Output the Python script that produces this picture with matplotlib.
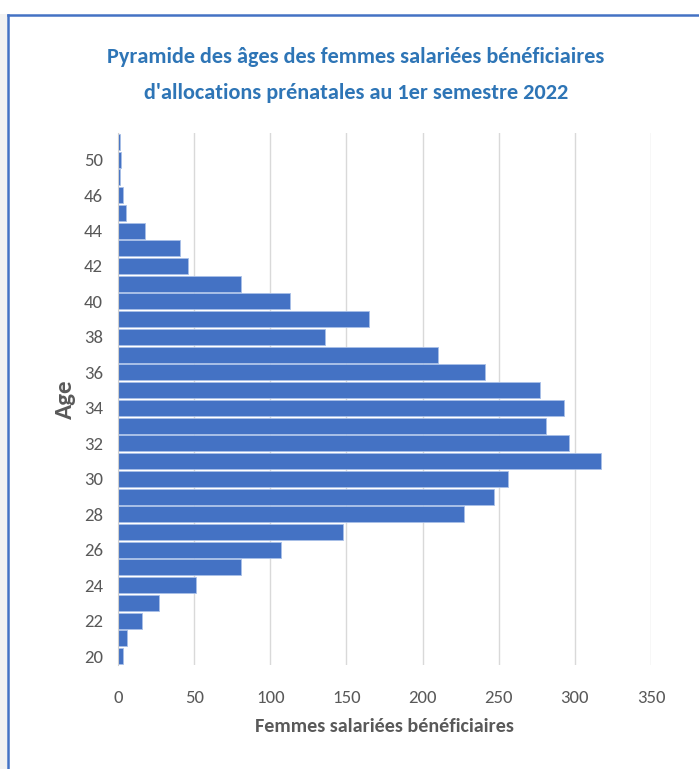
import matplotlib
matplotlib.use("Agg")
import matplotlib.pyplot as plt
from matplotlib.lines import Line2D
from matplotlib.patches import Rectangle

ages = [20, 21, 22, 23, 24, 25, 26, 27, 28, 29, 30, 31, 32, 33, 34,
        35, 36, 37, 38, 39, 40, 41, 42, 43, 44, 45, 46, 47, 50, 51]
counts = [3, 6, 16, 27, 51, 81, 107, 148, 227, 247, 256, 317, 296, 281, 293,
          277, 241, 210, 136, 165, 113, 81, 46, 41, 18, 5, 3, 1, 2, 1]
xticks = [0, 50, 100, 150, 200, 250, 300, 350]

title = "Pyramide des âges des femmes salariées bénéficiaires\nd'allocations prénatales au 1er semestre 2022"
xlabel = "Femmes salariées bénéficiaires"
ylabel = "Age"

fam = ["Carlito", "Open Sans", "DejaVu Sans"]
grey = "#595959"
blue = "#4472C4"

fig = plt.figure(figsize=(6.99, 7.69), dpi=100)

# page background strip and chart frame
fig.patches.append(Rectangle((0, 0), 7 / 699, 1 - 14 / 769, transform=fig.transFigure,
                             facecolor="#f2f2f2", edgecolor="none", zorder=0))
fig.lines.append(Line2D([7.5 / 699, 7.5 / 699], [0, 1 - 15 / 769], transform=fig.transFigure,
                        color=blue, lw=1.8))
fig.lines.append(Line2D([7.5 / 699, 1], [1 - 15 / 769, 1 - 15 / 769], transform=fig.transFigure,
                        color=blue, lw=1.8))

ax = fig.add_axes([118 / 699, 1 - 665 / 769, (651 - 118) / 699, (665 - 133) / 769])

pos = list(range(len(ages)))
ax.barh(pos, counts, height=0.9, color=blue, edgecolor="#a9c0e8", linewidth=0.6, zorder=3)

ax.set_xlim(0, 350)
ax.set_ylim(-0.5, len(ages) - 0.5)
ax.set_xticks(xticks)
ax.set_yticks(pos[::2])
ax.set_yticklabels([str(a) for a in ages[::2]])
ax.tick_params(length=0, colors=grey, labelsize=13.5)
ax.tick_params(axis="y", pad=11)
ax.tick_params(axis="x", pad=18)
for lab in ax.get_xticklabels() + ax.get_yticklabels():
    lab.set_family(fam)

ax.grid(axis="x", color="#d9d9d9", lw=1, zorder=0)
for s in ["top", "right", "bottom"]:
    ax.spines[s].set_visible(False)
ax.spines["left"].set_color("#d0d0d0")
ax.spines["left"].set_zorder(4)

ax.set_xlabel(xlabel, family=fam, fontsize=14.5, fontweight="bold", color=grey, va="center")
ax.xaxis.set_label_coords(0.5, -0.1147)
ax.set_ylabel(ylabel, family=fam, fontsize=18, fontweight="bold", color=grey, va="center")
ax.yaxis.set_label_coords(-0.0994, 0.5)

fig.text(356 / 699, 1 - 75 / 769, title, family=fam, fontsize=16, fontweight="bold",
         color="#2E75B6", ha="center", va="center", linespacing=1.95)

fig.savefig("out.png", dpi=100, facecolor="white")
